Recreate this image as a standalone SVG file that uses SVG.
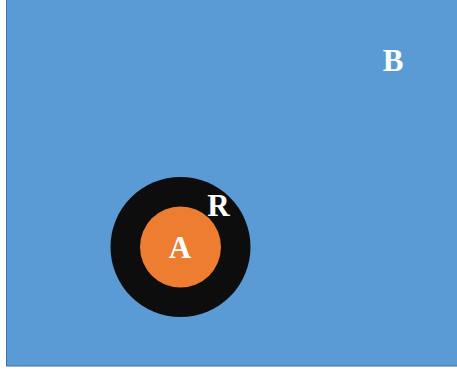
<svg xmlns="http://www.w3.org/2000/svg" width="457" height="371" viewBox="0 0 457 371">
<style>
.lbl{font-family:"Liberation Serif","Times New Roman",serif;font-weight:bold;font-size:31px;fill:#FFFFFF;text-anchor:middle}
</style>
<rect width="457" height="371" fill="#FFFFFF"/>
<g id="B">
<rect x="6.5" y="-1" width="452" height="367" fill="#5B9BD5" stroke="#41719C" stroke-width="1"/>
<text class="lbl" x="393" y="70.5">B</text>
</g>
<g id="R">
<circle cx="180.5" cy="247" r="70" fill="#0D0D0D"/>
<text class="lbl" x="218.5" y="216">R</text>
</g>
<g id="A">
<circle cx="180.5" cy="247" r="40.5" fill="#ED7D31"/>
<text class="lbl" x="180" y="258">A</text>
</g>
<g id="connectors"/>
</svg>
